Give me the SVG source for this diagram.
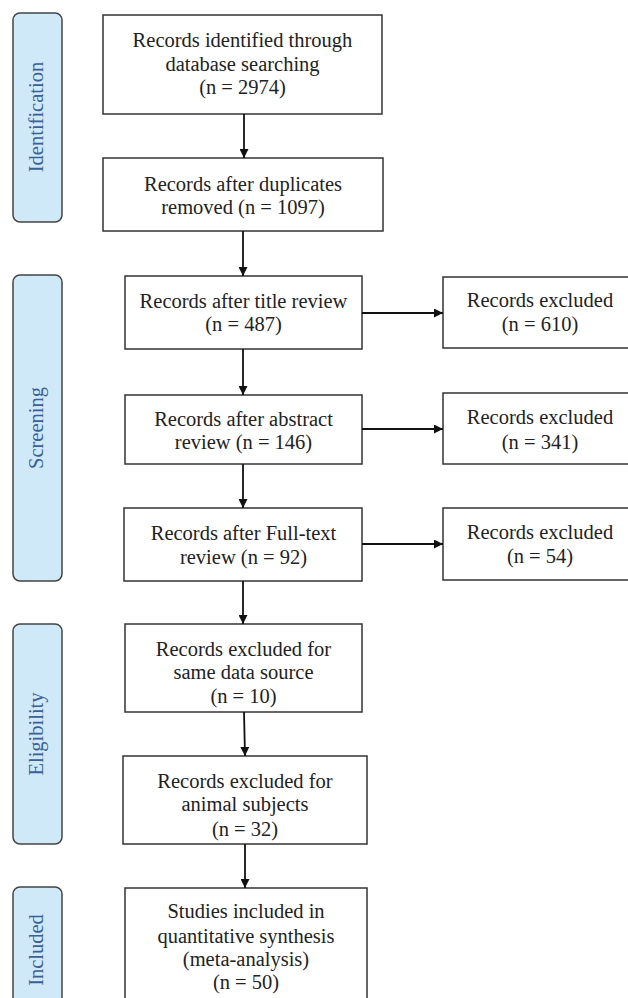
<svg xmlns="http://www.w3.org/2000/svg" width="628" height="998" viewBox="0 0 628 998">
<style>
.box{fill:#fff;stroke:#333;stroke-width:1.5}
.side{fill:#cfe9f8;stroke:#444;stroke-width:1.5}
.t{font-family:"Liberation Serif","Times New Roman",serif;font-size:20.5px;fill:#222;text-anchor:middle}
.s{font-family:"Liberation Serif","Times New Roman",serif;font-size:20.5px;fill:#3b5f98;text-anchor:middle}
.c{stroke:#111;stroke-width:1.8;fill:none}
</style>
<defs>
<marker id="ah" viewBox="0 0 10 10" refX="10" refY="5" markerWidth="5.5" markerHeight="5" markerUnits="strokeWidth" orient="auto">
<path d="M0,0 L10,5 L0,10 z" fill="#111"/>
</marker>
</defs>
<rect width="628" height="998" fill="#fff"/>
<g id="stage-identification"><rect class="side" x="13" y="13" width="49" height="209" rx="7"/><text class="s" transform="translate(43,117) rotate(-90)">Identification</text></g>
<g id="stage-screening"><rect class="side" x="13" y="275" width="49" height="306" rx="7"/><text class="s" transform="translate(43,428) rotate(-90)">Screening</text></g>
<g id="stage-eligibility"><rect class="side" x="13" y="624" width="49" height="220" rx="7"/><text class="s" transform="translate(43,734) rotate(-90)">Eligibility</text></g>
<g id="stage-included"><rect class="side" x="13" y="887" width="49" height="125" rx="7"/><text class="s" transform="translate(43,950) rotate(-90)">Included</text></g>

<g id="n1"><rect class="box" x="103" y="15" width="279" height="99"/>
<text class="t" x="242.5" y="47">Records identified through</text>
<text class="t" x="242.5" y="71">database searching</text>
<text class="t" x="242.5" y="94">(n = 2974)</text></g>
<g id="n2"><rect class="box" x="103" y="158" width="280" height="73"/>
<text class="t" x="243" y="191">Records after duplicates</text>
<text class="t" x="243" y="214">removed (n = 1097)</text></g>
<g id="n3"><rect class="box" x="125" y="276" width="237" height="73"/>
<text class="t" x="243.5" y="308">Records after title review</text>
<text class="t" x="243.5" y="331">(n = 487)</text></g>
<g id="n4"><rect class="box" x="125" y="395" width="237" height="69"/>
<text class="t" x="243.5" y="426">Records after abstract</text>
<text class="t" x="243.5" y="449">review (n = 146)</text></g>
<g id="n5"><rect class="box" x="124" y="508" width="238" height="73"/>
<text class="t" x="243.5" y="540">Records after Full-text</text>
<text class="t" x="243.5" y="564">review (n = 92)</text></g>
<g id="x1"><rect class="box" x="443" y="277" width="194" height="71"/>
<text class="t" x="540" y="307">Records excluded</text>
<text class="t" x="540" y="331">(n = 610)</text></g>
<g id="x2"><rect class="box" x="443" y="393" width="194" height="71"/>
<text class="t" x="540" y="424">Records excluded</text>
<text class="t" x="540" y="449">(n = 341)</text></g>
<g id="x3"><rect class="box" x="443" y="508" width="194" height="72"/>
<text class="t" x="540" y="539">Records excluded</text>
<text class="t" x="540" y="563">(n = 54)</text></g>
<g id="n6"><rect class="box" x="125" y="624" width="237" height="88"/>
<text class="t" x="243.5" y="656">Records excluded for</text>
<text class="t" x="243.5" y="679">same data source</text>
<text class="t" x="243.5" y="703">(n = 10)</text></g>
<g id="n7"><rect class="box" x="123" y="756" width="244" height="88"/>
<text class="t" x="245" y="788">Records excluded for</text>
<text class="t" x="245" y="811">animal subjects</text>
<text class="t" x="245" y="836">(n = 32)</text></g>
<g id="n8"><rect class="box" x="125" y="888" width="242" height="130"/>
<text class="t" x="246" y="918">Studies included in</text>
<text class="t" x="246" y="943">quantitative synthesis</text>
<text class="t" x="246" y="966">(meta-analysis)</text>
<text class="t" x="246" y="989">(n = 50)</text></g>

<g id="connectors">
<line class="c" x1="244" y1="114" x2="244" y2="158" marker-end="url(#ah)"/>
<line class="c" x1="243" y1="231" x2="243" y2="276" marker-end="url(#ah)"/>
<line class="c" x1="243" y1="349" x2="243" y2="395" marker-end="url(#ah)"/>
<line class="c" x1="243" y1="464" x2="243" y2="508" marker-end="url(#ah)"/>
<line class="c" x1="243" y1="581" x2="243" y2="624" marker-end="url(#ah)"/>
<line class="c" x1="244" y1="712" x2="245" y2="756" marker-end="url(#ah)"/>
<line class="c" x1="245" y1="844" x2="245" y2="888" marker-end="url(#ah)"/>
<line class="c" x1="362" y1="313" x2="443" y2="313" marker-end="url(#ah)"/>
<line class="c" x1="362" y1="429" x2="443" y2="429" marker-end="url(#ah)"/>
<line class="c" x1="362" y1="544" x2="443" y2="544" marker-end="url(#ah)"/>
</g>
</svg>
